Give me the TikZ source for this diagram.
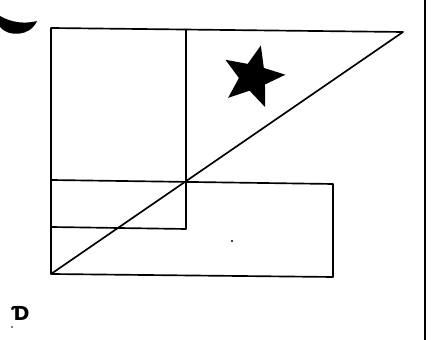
\documentclass[tikz,border=0pt]{standalone}
\usepackage{fontspec}
\newfontfamily\hookfont{DejaVu Sans}
\usetikzlibrary{shapes.geometric}
\tikzset{
    pen/.style={line width=0.95pt, line join=round},
    rim/.style={line width=1.3pt},
    blot/.style={fill=black, draw=none},
    speck/.style={fill=black},
}

\begin{document}
\begin{tikzpicture}[x=0.02cm, y=-0.02cm]
    \useasboundingbox (0,0) rectangle (434,340);
    % corners of the figure
    \coordinate (tl) at (51,28);
    \coordinate (tm) at (186,29);
    \coordinate (tr) at (403,32);
    \coordinate (ml) at (51,180);
    \coordinate (mr) at (333,184);
    \coordinate (ll) at (51,227);
    \coordinate (lm) at (186,229);
    \coordinate (bl) at (51,274);
    \coordinate (br) at (333,277);
    \coordinate (rimtop) at (425,0);
    \coordinate (rimbot) at (425,340);
    % triangle, tall box, wide box
    \draw[pen] (bl) -- (tl) -- (tr) -- cycle;
    \draw[pen] (tm) -- (lm) -- (ll);
    \draw[pen] (ml) -- (mr) -- (br) -- (bl);
    \draw[rim] (rimtop) -- (rimbot);
    % marks
    \node[star, star points=5, star point ratio=2.3, minimum size=1.3cm,
        inner sep=0pt, rotate=-14, blot] (starmark) at (253,77) {};
    \fill[blot] (0,16) .. controls (12,23) and (26,24) .. (37,21)
        .. controls (30,37) and (8,37) .. (0,27) -- cycle;
    \node[font=\hookfont\bfseries\fontsize{11}{11}\selectfont, inner sep=0pt] (hook) at (21,313) {Ɗ};
    \fill[speck] (232,241) circle (1.2);
    \fill[speck] (12,327) circle (0.8);
\end{tikzpicture}
\end{document}
